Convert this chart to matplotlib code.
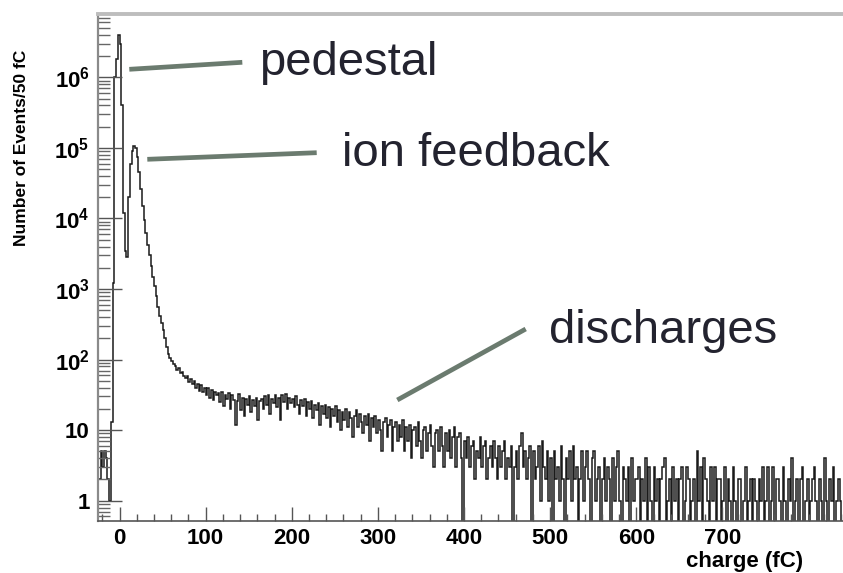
import numpy as np
import matplotlib
matplotlib.use("Agg")
import matplotlib.pyplot as plt
from matplotlib.ticker import FixedLocator, MultipleLocator, NullFormatter
from matplotlib.lines import Line2D

plt.rcParams['font.family'] = ['Liberation Sans', 'DejaVu Sans']
plt.rcParams['mathtext.fontset'] = 'custom'
plt.rcParams['mathtext.bf'] = 'Liberation Sans:bold'
plt.rcParams['mathtext.rm'] = 'Liberation Sans:bold'
plt.rcParams['mathtext.it'] = 'Liberation Sans:bold'

# ---------------- data (2 fC bins) ----------------
bin_width = 2.0
first_edge = -24.0

# bins centred -23 ... -9
counts_left = [2, 5, 3, 5, 4, 2, 1, 13]

# bins centred -7 ... 63 : pedestal and ion-feedback peak
counts_peaks = [1200, 1000000, 1800000, 4000000, 3000000, 400000, 12000, 3500,
                2800, 20000, 60000, 90000, 105000, 100000, 75000, 45000,
                26000, 15000, 9500, 6200, 4200, 3000, 2100, 1500,
                1100, 800, 560, 420, 330, 260, 200, 150,
                120, 105, 95, 88]

# bins centred 65 ... 199
counts_plateau = [82, 72, 77, 64, 66, 58, 55, 59, 48, 53,
                  45, 49, 40, 45, 36, 43, 35, 40, 31, 39,
                  29, 37, 27, 35, 31, 34, 25, 35, 22, 32,
                  28, 34, 20, 31, 27, 12, 26, 33, 19, 29,
                  16, 28, 23, 30, 18, 27, 22, 29, 14, 26,
                  28, 20, 30, 23, 31, 17, 28, 24, 32, 21,
                  29, 14, 31, 25, 33, 20, 29, 24]

# bins centred 201 ... 399
counts_slope = [28, 21, 30, 23, 17, 27, 22, 28, 16, 25,
                20, 26, 15, 23, 19, 24, 12, 22, 17, 23,
                15, 21, 11, 20, 16, 22, 13, 19, 10, 18,
                14, 20, 11, 18, 15, 8, 16, 19, 11, 17,
                13, 9, 16, 12, 17, 7, 15, 11, 16, 9,
                14, 10, 5, 13, 15, 8, 12, 14, 5, 11,
                13, 7, 12, 8, 14, 5, 11, 7, 12, 4,
                10, 11, 6, 13, 7, 4, 10, 11, 5, 9,
                12, 6, 3, 9, 10, 5, 11, 6, 3, 9,
                5, 10, 4, 8, 11, 3, 8, 9, 4, 0]

# bins centred 401 ... 599
counts_tail1 = [7, 4, 8, 3, 6, 7, 2, 5, 4, 8,
                3, 6, 7, 2, 4, 6, 3, 7, 4, 2,
                6, 3, 5, 7, 2, 4, 3, 6, 0, 3,
                5, 2, 6, 9, 3, 5, 2, 4, 6, 0,
                5, 2, 3, 6, 1, 7, 3, 2, 5, 1,
                4, 0, 5, 2, 3, 1, 6, 2, 0, 4,
                2, 5, 1, 6, 2, 3, 0, 2, 5, 1,
                3, 5, 2, 0, 4, 5, 1, 2, 3, 0,
                2, 4, 1, 3, 2, 0, 4, 1, 3, 5,
                1, 0, 3, 2, 1, 3, 0, 4, 1, 2]

# bins centred 601 ... 839
counts_tail2 = [2, 3, 0, 2, 1, 4, 0, 3, 1, 0,
                3, 1, 2, 0, 2, 3, 4, 0, 1, 2,
                0, 3, 1, 2, 0, 2, 3, 0, 1, 3,
                2, 0, 1, 2, 0, 5, 1, 3, 0, 4,
                2, 1, 0, 3, 1, 3, 0, 2, 2, 0,
                1, 3, 0, 2, 1, 0, 3, 1, 0, 2,
                2, 0, 1, 3, 0, 1, 2, 0, 2, 1,
                0, 2, 1, 3, 0, 1, 3, 0, 1, 3,
                0, 2, 2, 1, 0, 3, 1, 0, 2, 1,
                4, 0, 1, 2, 0, 2, 3, 0, 1, 2,
                0, 1, 2, 3, 1, 0, 2, 1, 0, 4,
                1, 0, 2, 1, 3, 0, 1, 2, 1, 0]

x_major_ticks = [0, 100, 200, 300, 400, 500, 600, 700]
y_major_ticks = [1, 10, 100, 1e3, 1e4, 1e5, 1e6]
y_tick_labels = ['1', '10', r'$\mathbf{10^{2}}$', r'$\mathbf{10^{3}}$',
                 r'$\mathbf{10^{4}}$', r'$\mathbf{10^{5}}$', r'$\mathbf{10^{6}}$']

counts = np.array(counts_left + counts_peaks + counts_plateau + counts_slope
                  + counts_tail1 + counts_tail2, dtype=float)
edges = first_edge + bin_width * np.arange(len(counts) + 1)

# ---------------- figure ----------------
W, H = 843, 573
fig = plt.figure(figsize=(W / 100, H / 100), dpi=100)
ax = fig.add_axes([98 / W, 1 - 520.7 / H, (W - 98) / W, (520.7 - 14) / H])

shown = np.where(counts > 0, counts, 0.05)
ax.stairs(shown, edges, baseline=None, color='#1a1a1a', lw=1.1)

ax.set_yscale('log')
ax.set_xlim(-25, 840)
ax.set_ylim(0.521, 7.9e6)

ax.set_xticks(x_major_ticks)
ax.set_xticklabels([str(v) for v in x_major_ticks])
ax.xaxis.set_minor_locator(MultipleLocator(20))

ax.yaxis.set_major_locator(FixedLocator(y_major_ticks))
ax.set_yticklabels(y_tick_labels)
minor_y = [m * 10.0 ** k for k in range(-1, 7) for m in range(2, 10)]
ax.yaxis.set_minor_locator(FixedLocator(minor_y))
ax.yaxis.set_minor_formatter(NullFormatter())

ax.tick_params(axis='x', which='major', direction='in', length=10, width=1.0,
               color='#555555', pad=5, labelsize=16)
ax.tick_params(axis='x', which='minor', direction='in', length=5, width=1.0,
               color='#555555')
ax.tick_params(axis='y', which='major', direction='in', length=17, width=1.0,
               color='#555555', pad=6, labelsize=16)
ax.tick_params(axis='y', which='minor', direction='in', length=8.5, width=1.0,
               color='#666666')
for lab in ax.get_xticklabels() + ax.get_yticklabels():
    lab.set_fontweight('bold')

ax.spines['right'].set_visible(False)
ax.spines['top'].set_color('#bdbdbd')
ax.spines['top'].set_linewidth(2.8)
ax.spines['left'].set_color('#8a8a8a')
ax.spines['left'].set_linewidth(1.6)
ax.spines['bottom'].set_color('#555555')
ax.spines['bottom'].set_linewidth(1.2)

# axis titles (ROOT style)
fig.text(22 / W, 1 - 148 / H, 'Number of Events/50 fC', rotation=90,
         ha='center', va='center', fontsize=12.5, fontweight='bold')
fig.text(803 / W, 1 - 572 / H, 'charge (fC)', ha='right', va='bottom',
         fontsize=16, fontweight='bold')

# annotations
def fx(px):
    return px / W

def fy(py):
    return 1 - py / H

line_color = '#6b7b6f'
for (x0, y0, x1, y1) in [(129.3, 69.3, 242.3, 62.3),
                         (147.3, 159.3, 316.7, 152.7),
                         (397.3, 400.0, 525.7, 329.0)]:
    fig.add_artist(Line2D([fx(x0), fx(x1)], [fy(y0), fy(y1)],
                          transform=fig.transFigure, color=line_color,
                          lw=3.4, solid_capstyle='butt'))

text_color = '#23232f'
fig.text(fx(259), fy(75), 'pedestal', ha='left', va='baseline',
         fontsize=34, color=text_color)
fig.text(fx(342), fy(165.5), 'ion feedback', ha='left', va='baseline',
         fontsize=34, color=text_color)
fig.text(fx(549), fy(343.3), 'discharges', ha='left', va='baseline',
         fontsize=34, color=text_color)

fig.savefig('out.png', dpi=100)
